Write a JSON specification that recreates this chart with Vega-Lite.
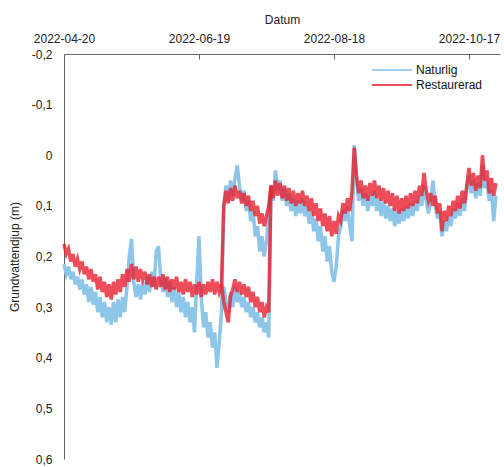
{
  "$schema": "https://vega.github.io/schema/vega-lite/v6.json",
  "width": 436,
  "height": 405,
  "autosize": "none",
  "padding": {"left": 64, "top": 54, "right": 4, "bottom": 8},
  "config": {
    "font": "Liberation Sans",
    "view": {"stroke": null},
    "axis": {"grid": false, "labelFontSize": 12, "titleFontSize": 12, "labelColor": "#222", "titleColor": "#222", "titleFontWeight": "normal", "domainColor": "#666", "tickColor": "#666"}
  },
  "data": {"values": [
    {"datum":"2022-04-20","brunn":"A","Naturlig":0.215,"Restaurerad":0.175},
    {"datum":"2022-04-21","brunn":"A","Naturlig":0.235,"Restaurerad":0.195},
    {"datum":"2022-04-22","brunn":"A","Naturlig":0.22,"Restaurerad":0.185},
    {"datum":"2022-04-23","brunn":"A","Naturlig":0.245,"Restaurerad":0.21},
    {"datum":"2022-04-24","brunn":"A","Naturlig":0.23,"Restaurerad":0.195},
    {"datum":"2022-04-25","brunn":"A","Naturlig":0.255,"Restaurerad":0.22},
    {"datum":"2022-04-26","brunn":"A","Naturlig":0.24,"Restaurerad":0.205},
    {"datum":"2022-04-27","brunn":"A","Naturlig":0.265,"Restaurerad":0.225},
    {"datum":"2022-04-28","brunn":"A","Naturlig":0.245,"Restaurerad":0.21},
    {"datum":"2022-04-29","brunn":"A","Naturlig":0.275,"Restaurerad":0.235},
    {"datum":"2022-04-30","brunn":"A","Naturlig":0.255,"Restaurerad":0.22},
    {"datum":"2022-05-01","brunn":"A","Naturlig":0.29,"Restaurerad":0.245},
    {"datum":"2022-05-02","brunn":"A","Naturlig":0.26,"Restaurerad":0.225},
    {"datum":"2022-05-03","brunn":"A","Naturlig":0.295,"Restaurerad":0.25},
    {"datum":"2022-05-04","brunn":"A","Naturlig":0.27,"Restaurerad":0.235},
    {"datum":"2022-05-05","brunn":"A","Naturlig":0.31,"Restaurerad":0.265},
    {"datum":"2022-05-06","brunn":"A","Naturlig":0.28,"Restaurerad":0.24},
    {"datum":"2022-05-07","brunn":"A","Naturlig":0.32,"Restaurerad":0.27},
    {"datum":"2022-05-08","brunn":"A","Naturlig":0.29,"Restaurerad":0.25},
    {"datum":"2022-05-09","brunn":"A","Naturlig":0.33,"Restaurerad":0.28},
    {"datum":"2022-05-10","brunn":"A","Naturlig":0.30,"Restaurerad":0.255},
    {"datum":"2022-05-11","brunn":"A","Naturlig":0.335,"Restaurerad":0.285},
    {"datum":"2022-05-12","brunn":"A","Naturlig":0.29,"Restaurerad":0.25},
    {"datum":"2022-05-13","brunn":"A","Naturlig":0.33,"Restaurerad":0.275},
    {"datum":"2022-05-14","brunn":"A","Naturlig":0.285,"Restaurerad":0.245},
    {"datum":"2022-05-15","brunn":"A","Naturlig":0.32,"Restaurerad":0.27},
    {"datum":"2022-05-16","brunn":"A","Naturlig":0.28,"Restaurerad":0.235},
    {"datum":"2022-05-17","brunn":"A","Naturlig":0.31,"Restaurerad":0.26},
    {"datum":"2022-05-18","brunn":"A","Naturlig":0.26,"Restaurerad":0.225},
    {"datum":"2022-05-19","brunn":"A","Naturlig":0.20,"Restaurerad":0.25},
    {"datum":"2022-05-20","brunn":"A","Naturlig":0.165,"Restaurerad":0.215},
    {"datum":"2022-05-21","brunn":"A","Naturlig":0.25,"Restaurerad":0.245},
    {"datum":"2022-05-22","brunn":"A","Naturlig":0.28,"Restaurerad":0.22},
    {"datum":"2022-05-23","brunn":"A","Naturlig":0.255,"Restaurerad":0.25},
    {"datum":"2022-05-24","brunn":"A","Naturlig":0.285,"Restaurerad":0.225},
    {"datum":"2022-05-25","brunn":"A","Naturlig":0.25,"Restaurerad":0.245},
    {"datum":"2022-05-26","brunn":"A","Naturlig":0.275,"Restaurerad":0.23},
    {"datum":"2022-05-27","brunn":"A","Naturlig":0.24,"Restaurerad":0.255},
    {"datum":"2022-05-28","brunn":"A","Naturlig":0.27,"Restaurerad":0.235},
    {"datum":"2022-05-29","brunn":"A","Naturlig":0.23,"Restaurerad":0.26},
    {"datum":"2022-05-30","brunn":"A","Naturlig":0.26,"Restaurerad":0.24},
    {"datum":"2022-05-31","brunn":"A","Naturlig":0.19,"Restaurerad":0.265},
    {"datum":"2022-06-01","brunn":"A","Naturlig":0.18,"Restaurerad":0.24},
    {"datum":"2022-06-02","brunn":"A","Naturlig":0.245,"Restaurerad":0.26},
    {"datum":"2022-06-03","brunn":"A","Naturlig":0.27,"Restaurerad":0.235},
    {"datum":"2022-06-04","brunn":"A","Naturlig":0.24,"Restaurerad":0.265},
    {"datum":"2022-06-05","brunn":"A","Naturlig":0.28,"Restaurerad":0.24},
    {"datum":"2022-06-06","brunn":"A","Naturlig":0.25,"Restaurerad":0.27},
    {"datum":"2022-06-07","brunn":"A","Naturlig":0.29,"Restaurerad":0.245},
    {"datum":"2022-06-08","brunn":"A","Naturlig":0.26,"Restaurerad":0.265},
    {"datum":"2022-06-09","brunn":"A","Naturlig":0.30,"Restaurerad":0.24},
    {"datum":"2022-06-10","brunn":"A","Naturlig":0.27,"Restaurerad":0.27},
    {"datum":"2022-06-11","brunn":"A","Naturlig":0.31,"Restaurerad":0.25},
    {"datum":"2022-06-12","brunn":"A","Naturlig":0.28,"Restaurerad":0.275},
    {"datum":"2022-06-13","brunn":"A","Naturlig":0.32,"Restaurerad":0.245},
    {"datum":"2022-06-14","brunn":"A","Naturlig":0.29,"Restaurerad":0.27},
    {"datum":"2022-06-15","brunn":"A","Naturlig":0.33,"Restaurerad":0.25},
    {"datum":"2022-06-16","brunn":"A","Naturlig":0.30,"Restaurerad":0.28},
    {"datum":"2022-06-17","brunn":"A","Naturlig":0.35,"Restaurerad":0.255},
    {"datum":"2022-06-18","brunn":"A","Naturlig":0.25,"Restaurerad":0.275},
    {"datum":"2022-06-19","brunn":"A","Naturlig":0.16,"Restaurerad":0.25},
    {"datum":"2022-06-20","brunn":"A","Naturlig":0.28,"Restaurerad":0.28},
    {"datum":"2022-06-21","brunn":"A","Naturlig":0.34,"Restaurerad":0.255},
    {"datum":"2022-06-22","brunn":"A","Naturlig":0.31,"Restaurerad":0.275},
    {"datum":"2022-06-23","brunn":"A","Naturlig":0.36,"Restaurerad":0.25},
    {"datum":"2022-06-24","brunn":"A","Naturlig":0.33,"Restaurerad":0.27},
    {"datum":"2022-06-25","brunn":"A","Naturlig":0.38,"Restaurerad":0.245},
    {"datum":"2022-06-26","brunn":"A","Naturlig":0.35,"Restaurerad":0.275},
    {"datum":"2022-06-27","brunn":"A","Naturlig":0.42,"Restaurerad":0.25},
    {"datum":"2022-06-28","brunn":"A","Naturlig":0.37,"Restaurerad":0.27},
    {"datum":"2022-06-29","brunn":"A","Naturlig":0.31,"Restaurerad":0.255},
    {"datum":"2022-06-30","brunn":"A","Naturlig":0.10,"Restaurerad":0.10},
    {"datum":"2022-07-01","brunn":"A","Naturlig":0.06,"Restaurerad":0.07},
    {"datum":"2022-07-02","brunn":"A","Naturlig":0.09,"Restaurerad":0.095},
    {"datum":"2022-07-03","brunn":"A","Naturlig":0.05,"Restaurerad":0.065},
    {"datum":"2022-07-04","brunn":"A","Naturlig":0.08,"Restaurerad":0.09},
    {"datum":"2022-07-05","brunn":"A","Naturlig":0.045,"Restaurerad":0.06},
    {"datum":"2022-07-06","brunn":"A","Naturlig":0.02,"Restaurerad":0.085},
    {"datum":"2022-07-07","brunn":"A","Naturlig":0.06,"Restaurerad":0.07},
    {"datum":"2022-07-08","brunn":"A","Naturlig":0.09,"Restaurerad":0.095},
    {"datum":"2022-07-09","brunn":"A","Naturlig":0.07,"Restaurerad":0.075},
    {"datum":"2022-07-10","brunn":"A","Naturlig":0.11,"Restaurerad":0.10},
    {"datum":"2022-07-11","brunn":"A","Naturlig":0.09,"Restaurerad":0.08},
    {"datum":"2022-07-12","brunn":"A","Naturlig":0.13,"Restaurerad":0.11},
    {"datum":"2022-07-13","brunn":"A","Naturlig":0.11,"Restaurerad":0.09},
    {"datum":"2022-07-14","brunn":"A","Naturlig":0.16,"Restaurerad":0.12},
    {"datum":"2022-07-15","brunn":"A","Naturlig":0.14,"Restaurerad":0.10},
    {"datum":"2022-07-16","brunn":"A","Naturlig":0.19,"Restaurerad":0.135},
    {"datum":"2022-07-17","brunn":"A","Naturlig":0.16,"Restaurerad":0.115},
    {"datum":"2022-07-18","brunn":"A","Naturlig":0.20,"Restaurerad":0.14},
    {"datum":"2022-07-19","brunn":"A","Naturlig":0.17,"Restaurerad":0.12},
    {"datum":"2022-07-20","brunn":"A","Naturlig":0.12,"Restaurerad":0.10},
    {"datum":"2022-07-21","brunn":"A","Naturlig":0.06,"Restaurerad":0.06},
    {"datum":"2022-07-22","brunn":"A","Naturlig":0.09,"Restaurerad":0.085},
    {"datum":"2022-07-23","brunn":"A","Naturlig":0.03,"Restaurerad":0.05},
    {"datum":"2022-07-24","brunn":"A","Naturlig":0.07,"Restaurerad":0.08},
    {"datum":"2022-07-25","brunn":"A","Naturlig":0.05,"Restaurerad":0.055},
    {"datum":"2022-07-26","brunn":"A","Naturlig":0.09,"Restaurerad":0.085},
    {"datum":"2022-07-27","brunn":"A","Naturlig":0.065,"Restaurerad":0.06},
    {"datum":"2022-07-28","brunn":"A","Naturlig":0.10,"Restaurerad":0.09},
    {"datum":"2022-07-29","brunn":"A","Naturlig":0.075,"Restaurerad":0.065},
    {"datum":"2022-07-30","brunn":"A","Naturlig":0.11,"Restaurerad":0.095},
    {"datum":"2022-07-31","brunn":"A","Naturlig":0.085,"Restaurerad":0.07},
    {"datum":"2022-08-01","brunn":"A","Naturlig":0.12,"Restaurerad":0.10},
    {"datum":"2022-08-02","brunn":"A","Naturlig":0.09,"Restaurerad":0.075},
    {"datum":"2022-08-03","brunn":"A","Naturlig":0.115,"Restaurerad":0.095},
    {"datum":"2022-08-04","brunn":"A","Naturlig":0.085,"Restaurerad":0.07},
    {"datum":"2022-08-05","brunn":"A","Naturlig":0.12,"Restaurerad":0.10},
    {"datum":"2022-08-06","brunn":"A","Naturlig":0.10,"Restaurerad":0.08},
    {"datum":"2022-08-07","brunn":"A","Naturlig":0.135,"Restaurerad":0.11},
    {"datum":"2022-08-08","brunn":"A","Naturlig":0.11,"Restaurerad":0.085},
    {"datum":"2022-08-09","brunn":"A","Naturlig":0.15,"Restaurerad":0.12},
    {"datum":"2022-08-10","brunn":"A","Naturlig":0.125,"Restaurerad":0.095},
    {"datum":"2022-08-11","brunn":"A","Naturlig":0.17,"Restaurerad":0.13},
    {"datum":"2022-08-12","brunn":"A","Naturlig":0.14,"Restaurerad":0.105},
    {"datum":"2022-08-13","brunn":"A","Naturlig":0.19,"Restaurerad":0.14},
    {"datum":"2022-08-14","brunn":"A","Naturlig":0.16,"Restaurerad":0.115},
    {"datum":"2022-08-15","brunn":"A","Naturlig":0.21,"Restaurerad":0.15},
    {"datum":"2022-08-16","brunn":"A","Naturlig":0.18,"Restaurerad":0.12},
    {"datum":"2022-08-17","brunn":"A","Naturlig":0.23,"Restaurerad":0.16},
    {"datum":"2022-08-18","brunn":"A","Naturlig":0.25,"Restaurerad":0.13},
    {"datum":"2022-08-19","brunn":"A","Naturlig":0.22,"Restaurerad":0.155},
    {"datum":"2022-08-20","brunn":"A","Naturlig":0.16,"Restaurerad":0.12},
    {"datum":"2022-08-21","brunn":"A","Naturlig":0.14,"Restaurerad":0.13},
    {"datum":"2022-08-22","brunn":"A","Naturlig":0.11,"Restaurerad":0.095},
    {"datum":"2022-08-23","brunn":"A","Naturlig":0.13,"Restaurerad":0.115},
    {"datum":"2022-08-24","brunn":"A","Naturlig":0.10,"Restaurerad":0.085},
    {"datum":"2022-08-25","brunn":"A","Naturlig":0.14,"Restaurerad":0.11},
    {"datum":"2022-08-26","brunn":"A","Naturlig":0.17,"Restaurerad":0.07},
    {"datum":"2022-08-27","brunn":"A","Naturlig":-0.02,"Restaurerad":-0.015},
    {"datum":"2022-08-28","brunn":"A","Naturlig":0.05,"Restaurerad":0.04},
    {"datum":"2022-08-29","brunn":"A","Naturlig":0.09,"Restaurerad":0.075},
    {"datum":"2022-08-30","brunn":"A","Naturlig":0.065,"Restaurerad":0.05},
    {"datum":"2022-08-31","brunn":"A","Naturlig":0.10,"Restaurerad":0.085},
    {"datum":"2022-09-01","brunn":"A","Naturlig":0.075,"Restaurerad":0.06},
    {"datum":"2022-09-02","brunn":"A","Naturlig":0.11,"Restaurerad":0.09},
    {"datum":"2022-09-03","brunn":"A","Naturlig":0.08,"Restaurerad":0.055},
    {"datum":"2022-09-04","brunn":"A","Naturlig":0.10,"Restaurerad":0.08},
    {"datum":"2022-09-05","brunn":"A","Naturlig":0.07,"Restaurerad":0.05},
    {"datum":"2022-09-06","brunn":"A","Naturlig":0.11,"Restaurerad":0.085},
    {"datum":"2022-09-07","brunn":"A","Naturlig":0.085,"Restaurerad":0.06},
    {"datum":"2022-09-08","brunn":"A","Naturlig":0.12,"Restaurerad":0.09},
    {"datum":"2022-09-09","brunn":"A","Naturlig":0.09,"Restaurerad":0.065},
    {"datum":"2022-09-10","brunn":"A","Naturlig":0.125,"Restaurerad":0.095},
    {"datum":"2022-09-11","brunn":"A","Naturlig":0.10,"Restaurerad":0.07},
    {"datum":"2022-09-12","brunn":"A","Naturlig":0.13,"Restaurerad":0.10},
    {"datum":"2022-09-13","brunn":"A","Naturlig":0.105,"Restaurerad":0.075},
    {"datum":"2022-09-14","brunn":"A","Naturlig":0.14,"Restaurerad":0.11},
    {"datum":"2022-09-15","brunn":"A","Naturlig":0.11,"Restaurerad":0.08},
    {"datum":"2022-09-16","brunn":"A","Naturlig":0.135,"Restaurerad":0.115},
    {"datum":"2022-09-17","brunn":"A","Naturlig":0.105,"Restaurerad":0.085},
    {"datum":"2022-09-18","brunn":"A","Naturlig":0.13,"Restaurerad":0.11},
    {"datum":"2022-09-19","brunn":"A","Naturlig":0.10,"Restaurerad":0.08},
    {"datum":"2022-09-20","brunn":"A","Naturlig":0.125,"Restaurerad":0.105},
    {"datum":"2022-09-21","brunn":"A","Naturlig":0.095,"Restaurerad":0.075},
    {"datum":"2022-09-22","brunn":"A","Naturlig":0.12,"Restaurerad":0.10},
    {"datum":"2022-09-23","brunn":"A","Naturlig":0.09,"Restaurerad":0.07},
    {"datum":"2022-09-24","brunn":"A","Naturlig":0.11,"Restaurerad":0.095},
    {"datum":"2022-09-25","brunn":"A","Naturlig":0.08,"Restaurerad":0.06},
    {"datum":"2022-09-26","brunn":"A","Naturlig":0.10,"Restaurerad":0.08},
    {"datum":"2022-09-27","brunn":"A","Naturlig":0.06,"Restaurerad":0.035},
    {"datum":"2022-09-28","brunn":"A","Naturlig":0.09,"Restaurerad":0.07},
    {"datum":"2022-09-29","brunn":"A","Naturlig":0.115,"Restaurerad":0.09},
    {"datum":"2022-09-30","brunn":"A","Naturlig":0.09,"Restaurerad":0.075},
    {"datum":"2022-10-01","brunn":"A","Naturlig":0.05,"Restaurerad":0.10},
    {"datum":"2022-10-02","brunn":"A","Naturlig":0.10,"Restaurerad":0.08},
    {"datum":"2022-10-03","brunn":"A","Naturlig":0.125,"Restaurerad":0.115},
    {"datum":"2022-10-04","brunn":"A","Naturlig":0.11,"Restaurerad":0.095},
    {"datum":"2022-10-05","brunn":"A","Naturlig":0.16,"Restaurerad":0.15},
    {"datum":"2022-10-06","brunn":"A","Naturlig":0.13,"Restaurerad":0.11},
    {"datum":"2022-10-07","brunn":"A","Naturlig":0.15,"Restaurerad":0.13},
    {"datum":"2022-10-08","brunn":"A","Naturlig":0.12,"Restaurerad":0.10},
    {"datum":"2022-10-09","brunn":"A","Naturlig":0.14,"Restaurerad":0.12},
    {"datum":"2022-10-10","brunn":"A","Naturlig":0.105,"Restaurerad":0.09},
    {"datum":"2022-10-11","brunn":"A","Naturlig":0.125,"Restaurerad":0.11},
    {"datum":"2022-10-12","brunn":"A","Naturlig":0.095,"Restaurerad":0.08},
    {"datum":"2022-10-13","brunn":"A","Naturlig":0.12,"Restaurerad":0.105},
    {"datum":"2022-10-14","brunn":"A","Naturlig":0.085,"Restaurerad":0.07},
    {"datum":"2022-10-15","brunn":"A","Naturlig":0.11,"Restaurerad":0.095},
    {"datum":"2022-10-16","brunn":"A","Naturlig":0.07,"Restaurerad":0.06},
    {"datum":"2022-10-17","brunn":"A","Naturlig":0.04,"Restaurerad":0.025},
    {"datum":"2022-10-18","brunn":"A","Naturlig":0.075,"Restaurerad":0.06},
    {"datum":"2022-10-19","brunn":"A","Naturlig":0.05,"Restaurerad":0.035},
    {"datum":"2022-10-20","brunn":"A","Naturlig":0.085,"Restaurerad":0.07},
    {"datum":"2022-10-21","brunn":"A","Naturlig":0.055,"Restaurerad":0.04},
    {"datum":"2022-10-22","brunn":"A","Naturlig":0.08,"Restaurerad":0.065},
    {"datum":"2022-10-23","brunn":"A","Naturlig":0.02,"Restaurerad":0.0},
    {"datum":"2022-10-24","brunn":"A","Naturlig":0.065,"Restaurerad":0.05},
    {"datum":"2022-10-25","brunn":"A","Naturlig":0.05,"Restaurerad":0.03},
    {"datum":"2022-10-26","brunn":"A","Naturlig":0.09,"Restaurerad":0.075},
    {"datum":"2022-10-27","brunn":"A","Naturlig":0.07,"Restaurerad":0.045},
    {"datum":"2022-10-28","brunn":"A","Naturlig":0.13,"Restaurerad":0.08},
    {"datum":"2022-10-29","brunn":"A","Naturlig":0.08,"Restaurerad":0.055},
    {"datum":"2022-06-29","brunn":"B","Naturlig":0.31,"Restaurerad":0.255},
    {"datum":"2022-06-30","brunn":"B","Naturlig":0.26,"Restaurerad":0.29},
    {"datum":"2022-07-01","brunn":"B","Naturlig":0.29,"Restaurerad":0.31},
    {"datum":"2022-07-02","brunn":"B","Naturlig":0.31,"Restaurerad":0.33},
    {"datum":"2022-07-03","brunn":"B","Naturlig":0.27,"Restaurerad":0.28},
    {"datum":"2022-07-04","brunn":"B","Naturlig":0.30,"Restaurerad":0.265},
    {"datum":"2022-07-05","brunn":"B","Naturlig":0.26,"Restaurerad":0.245},
    {"datum":"2022-07-06","brunn":"B","Naturlig":0.29,"Restaurerad":0.27},
    {"datum":"2022-07-07","brunn":"B","Naturlig":0.27,"Restaurerad":0.25},
    {"datum":"2022-07-08","brunn":"B","Naturlig":0.30,"Restaurerad":0.275},
    {"datum":"2022-07-09","brunn":"B","Naturlig":0.28,"Restaurerad":0.255},
    {"datum":"2022-07-10","brunn":"B","Naturlig":0.31,"Restaurerad":0.28},
    {"datum":"2022-07-11","brunn":"B","Naturlig":0.29,"Restaurerad":0.26},
    {"datum":"2022-07-12","brunn":"B","Naturlig":0.32,"Restaurerad":0.29},
    {"datum":"2022-07-13","brunn":"B","Naturlig":0.30,"Restaurerad":0.27},
    {"datum":"2022-07-14","brunn":"B","Naturlig":0.33,"Restaurerad":0.30},
    {"datum":"2022-07-15","brunn":"B","Naturlig":0.31,"Restaurerad":0.28},
    {"datum":"2022-07-16","brunn":"B","Naturlig":0.34,"Restaurerad":0.31},
    {"datum":"2022-07-17","brunn":"B","Naturlig":0.32,"Restaurerad":0.29},
    {"datum":"2022-07-18","brunn":"B","Naturlig":0.35,"Restaurerad":0.32},
    {"datum":"2022-07-19","brunn":"B","Naturlig":0.33,"Restaurerad":0.30},
    {"datum":"2022-07-20","brunn":"B","Naturlig":0.36,"Restaurerad":0.31},
    {"datum":"2022-07-21","brunn":"B","Naturlig":0.06,"Restaurerad":0.06}
  ]},
  "transform": [
    {"fold": ["Naturlig", "Restaurerad"], "as": ["serie", "djup"]}
  ],
  "encoding": {
    "x": {
      "field": "datum", "type": "temporal",
      "scale": {"type": "utc", "domain": [{"year": 2022, "month": 4, "date": 20, "utc": true}, {"year": 2022, "month": 10, "date": 30, "hours": 19, "utc": true}]},
      "axis": {
        "orient": "top", "title": "Datum",
        "labelExpr": "utcFormat(datum.value, '%Y-%m-%d')",
        "values": [{"year": 2022, "month": 4, "date": 20, "utc": true}, {"year": 2022, "month": 6, "date": 19, "utc": true}, {"year": 2022, "month": 8, "date": 18, "utc": true}, {"year": 2022, "month": 10, "date": 17, "utc": true}],
        "tickSize": -5, "labelPadding": 14, "titlePadding": 6, "labelFlush": false
      }
    },
    "y": {
      "field": "djup", "type": "quantitative",
      "scale": {"domain": [-0.2, 0.6], "reverse": true, "nice": false, "zero": false},
      "axis": {
        "title": "Grundvattendjup (m)", "values": [-0.2, -0.1, 0, 0.1, 0.2, 0.3, 0.4, 0.5, 0.6],
        "ticks": false, "labelPadding": 12, "titlePadding": 10,
        "labelExpr": "datum.value == 0 ? '0' : replace(replace(format(datum.value, '.1f'), '.', ','), '\u2212', '-')"
      }
    },
    "color": {
      "field": "serie", "type": "nominal",
      "scale": {"domain": ["Naturlig", "Restaurerad"], "range": ["#8ec6ea", "#e8202e"]},
      "legend": {"title": null, "orient": "none", "legendX": 322, "legendY": 10, "symbolType": "M-4,0H4", "symbolSize": 100, "symbolStrokeWidth": 2, "labelFontSize": 12, "labelColor": "#111", "rowPadding": 3, "labelOffset": 18}
    },
    "detail": {"field": "brunn"}
  },
  "layer": [
    {"transform": [{"filter": "datum.serie == 'Naturlig'"}], "mark": {"type": "line", "strokeWidth": 3.5, "interpolate": "linear"}},
    {"transform": [{"filter": "datum.serie == 'Restaurerad'"}], "mark": {"type": "line", "strokeWidth": 3.5, "opacity": 0.8}}
  ]
}
